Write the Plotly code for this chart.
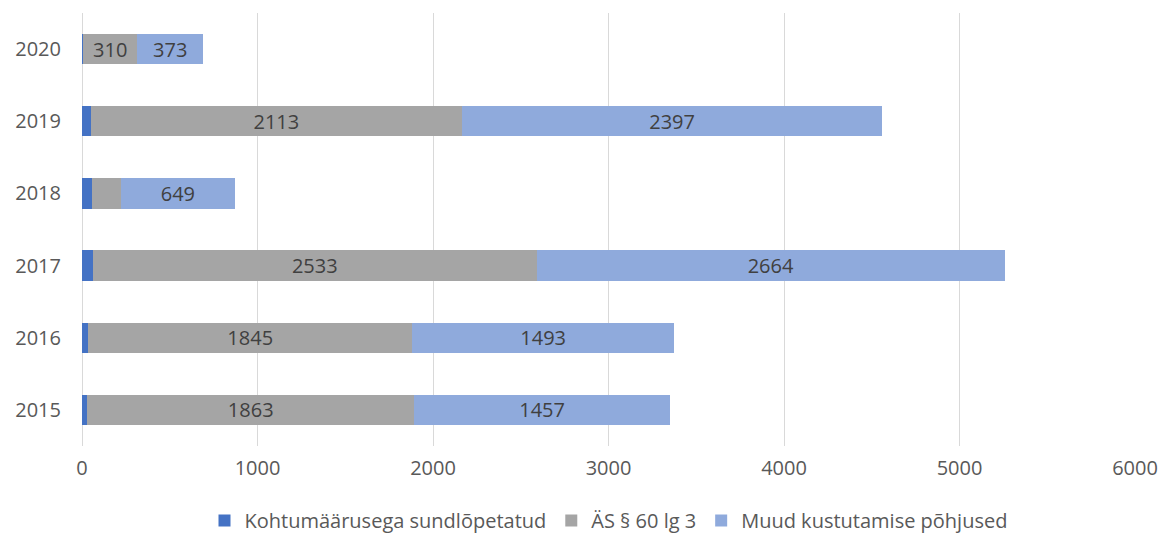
import plotly.graph_objects as go

years = ["2015", "2016", "2017", "2018", "2019", "2020"]
kohtumaarusega = [30, 36, 60, 57, 51, 6]
as_60_lg3 = [1863, 1845, 2533, 165, 2113, 310]
muud = [1457, 1493, 2664, 649, 2397, 373]

# labels only shown where the segment is wide enough
as_labels = ["1863", "1845", "2533", "", "2113", "310"]
muud_labels = [str(v) for v in muud]

names = ["Kohtumäärusega sundlõpetatud", "ÄS § 60 lg 3", "Muud kustutamise põhjused"]
colors = ["#4472C4", "#A5A5A5", "#8FAADC"]

font_family = "Open Sans, Liberation Sans, sans-serif"
label_font = dict(family=font_family, size=20, color="#404040")

fig = go.Figure()
fig.add_trace(go.Bar(
    y=years, x=kohtumaarusega, name=names[0], orientation="h",
    marker=dict(color=colors[0], line=dict(width=0)),
))
fig.add_trace(go.Bar(
    y=years, x=as_60_lg3, name=names[1], orientation="h",
    marker=dict(color=colors[1], line=dict(width=0)),
    text=as_labels, textposition="inside", insidetextanchor="middle",
    textangle=0, textfont=label_font, constraintext="none",
))
fig.add_trace(go.Bar(
    y=years, x=muud, name=names[2], orientation="h",
    marker=dict(color=colors[2], line=dict(width=0)),
    text=muud_labels, textposition="inside", insidetextanchor="middle",
    textangle=0, textfont=label_font, constraintext="none",
))

fig.update_layout(
    barmode="stack",
    bargap=0.58,
    width=1160, height=540,
    margin=dict(l=82, r=25, t=13, b=94, autoexpand=False),
    plot_bgcolor="white", paper_bgcolor="white",
    font=dict(family=font_family, size=20, color="#595959"),
    xaxis=dict(
        range=[0, 6000], dtick=1000, showgrid=True, gridcolor="#D9D9D9",
        gridwidth=1, zeroline=True, zerolinecolor="#D9D9D9", zerolinewidth=1,
        showline=False, ticks="", tickfont=dict(size=20, color="#595959"),
        ticklabelstandoff=8,
    ),
    yaxis=dict(
        categoryorder="array", categoryarray=years, showgrid=False,
        showline=False, ticks="", tickfont=dict(size=20, color="#595959"),
        ticklabelstandoff=20,
    ),
    legend=dict(
        orientation="h", x=0.5, xanchor="center",
        yref="container", y=-0.012, yanchor="bottom",
        font=dict(size=20, color="#595959"), traceorder="normal",
        itemwidth=30,
    ),
    uniformtext=dict(mode=False),
)

fig.write_html("out.html")
